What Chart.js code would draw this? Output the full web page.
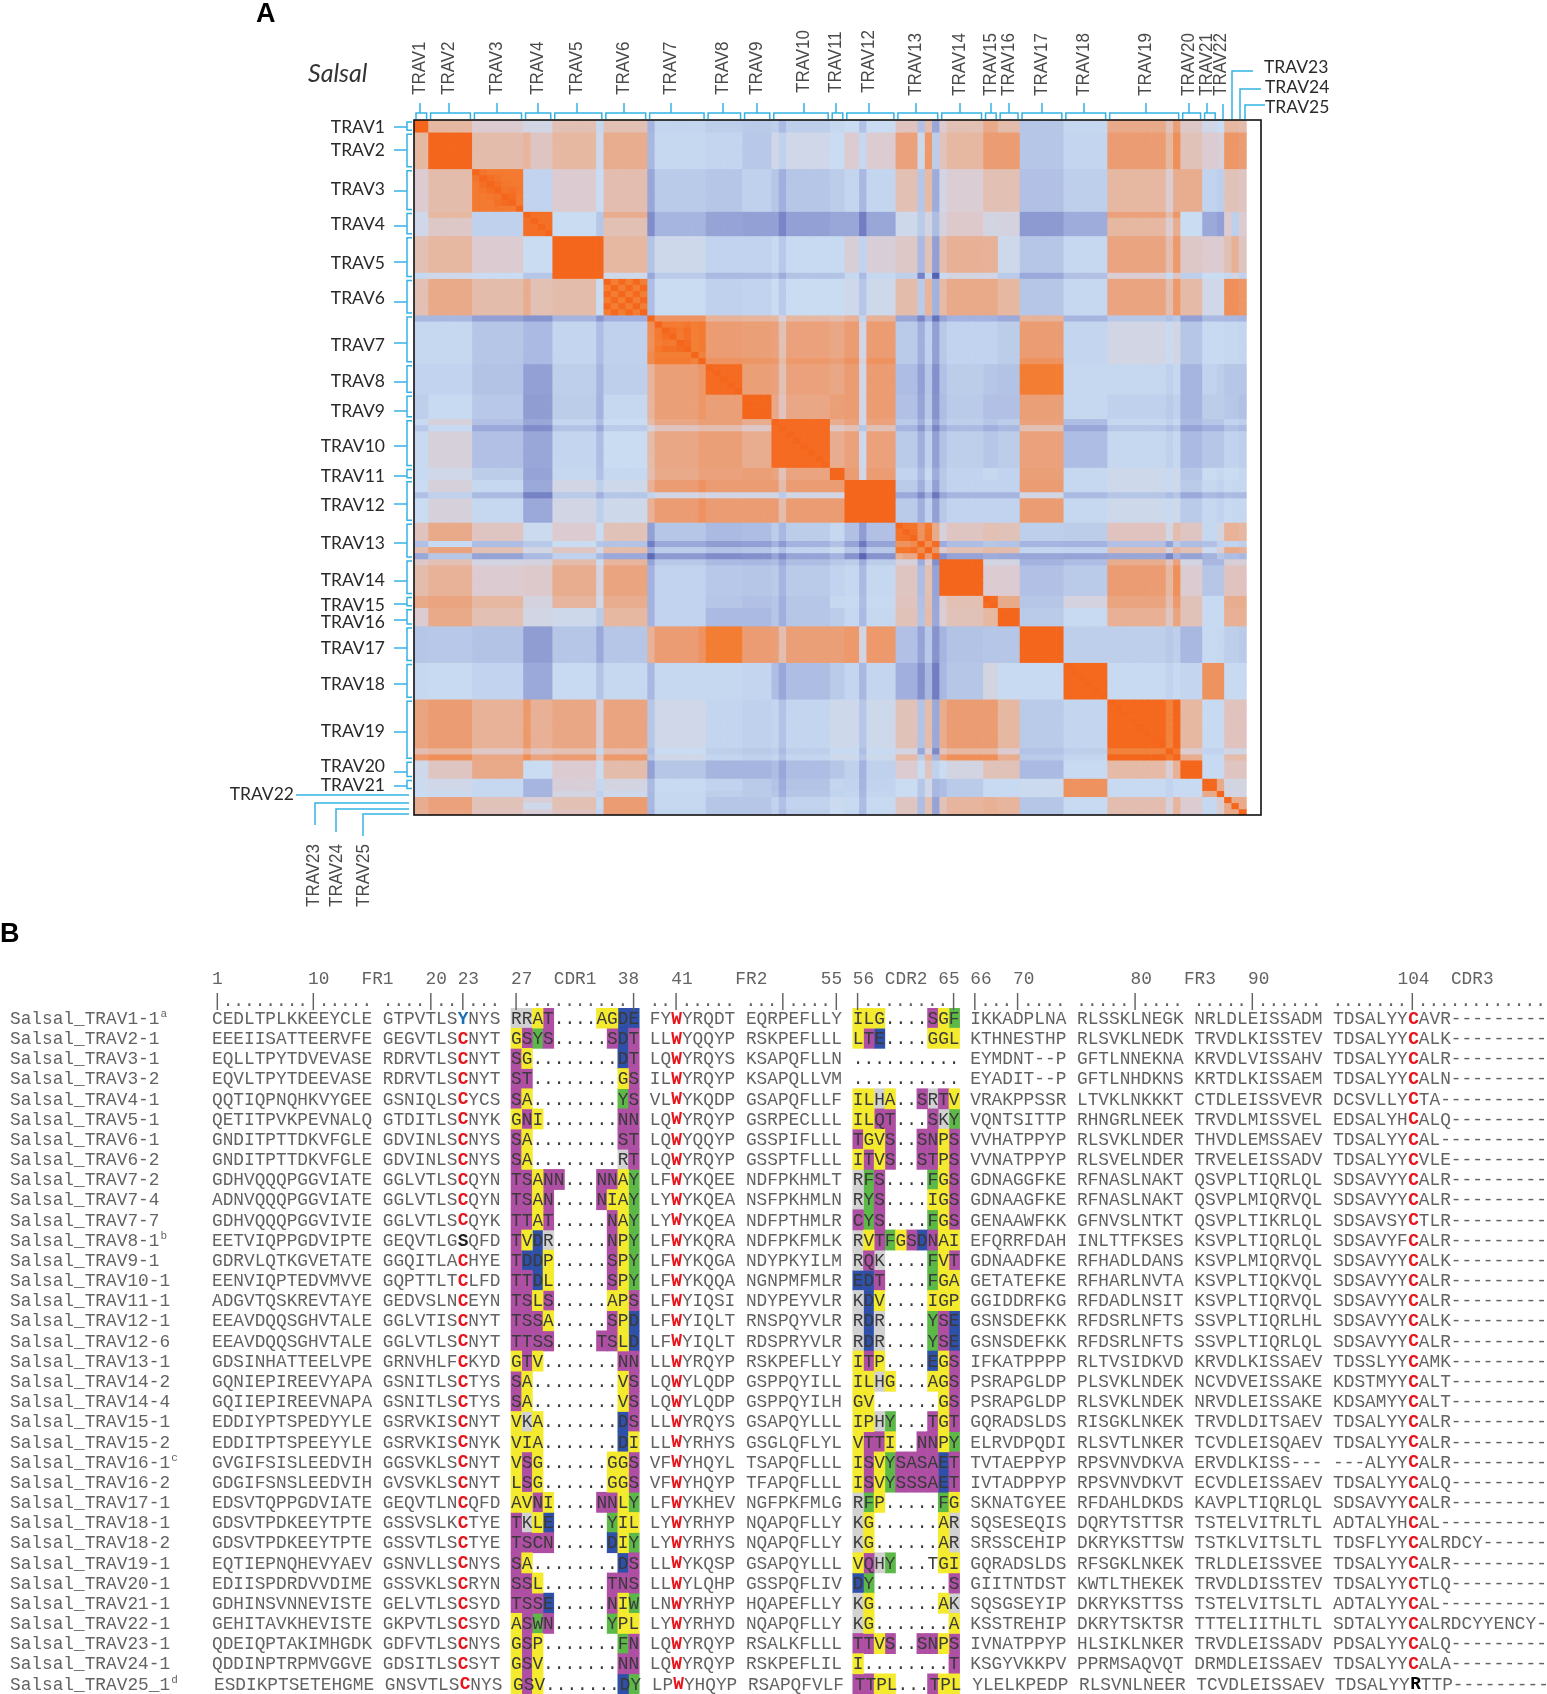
<!DOCTYPE html>
<html>
<head>
<meta charset="utf-8">
<title>Salsal TRAV</title>
<script src="https://cdn.jsdelivr.net/npm/chart.js@4"></script>
<style>
  html, body { margin: 0; padding: 0; background: #fff; }
  #page { position: relative; width: 1547px; height: 1694px; overflow: hidden; }
  canvas { position: absolute; left: 0; }
  #heatChart { top: 0; }
  #alignChart { top: 900px; }
</style>
</head>
<body>
<div id="page">
  <canvas id="heatChart" width="1547" height="915"></canvas>
  <canvas id="alignChart" width="1547" height="794"></canvas>
</div>
<script>
// ---- panel A data, tones (1 deep blue .. 5 pink .. 9 hot orange)
const familyNames = ['TRAV1','TRAV2','TRAV3','TRAV4','TRAV5','TRAV6','TRAV7','TRAV8','TRAV9','TRAV10','TRAV11','TRAV12','TRAV13','TRAV14','TRAV15','TRAV16','TRAV17','TRAV18','TRAV19','TRAV20','TRAV21','TRAV22','TRAV23','TRAV24','TRAV25'];
const familySizes = [2,6,7,4,7,6,8,5,4,8,2,7,6,6,2,3,6,6,10,3,2,1,1,1,1];
const familyTones = [
  [9,6,5,4.4,5.6,5.6,3.7,3.4,3.2,3.4,3.8,4,5.4,5.6,6.5,5.8,3,3.8,6.5,5.2,4.3,4,6,6,5.8],
  [6,9,5.8,5.3,6,6.4,3.8,3.7,3.1,4.3,4,5,6.8,6,7,7,3,3.7,7,5.5,5,4.8,7.2,7.2,7],
  [5,5.8,8.7,3.6,5,5.7,3.2,3,3.5,3,3.3,3.7,5.6,4.9,5.6,5.6,2.8,3.4,6,6.4,3.6,3.4,5.5,5.5,5.3],
  [4.3,5.2,3.5,8.6,4,5.6,2.4,1.8,1.7,1.7,1.9,1.9,4.2,5.1,4.5,4.6,1.5,2.1,6,4,2,1.7,5,3.4,5],
  [5.6,6,5,4,9,6,4.2,3.6,3.6,3.9,3.9,4.8,5.2,6.3,6.2,4.2,3,3.8,6.7,5.2,5,5,5.6,6.3,5.3],
  [5.6,6.5,5.8,5.6,5.8,8.6,4,3.5,3.6,4,4,4.2,5.8,6.5,6.5,6,3,3.8,6.7,5.9,4.3,4.3,7.4,7.4,7.2],
  [3.8,3.8,3,2.6,3.7,3.5,8.3,7,6.9,6.8,6.6,7,3.2,3.6,3.6,3.3,7,3.7,4.4,3,3.9,3.9,3.8,3.8,3.7],
  [3.6,3.6,2.9,1.7,3.4,3.4,6.9,8.8,6.9,6.8,6.6,7,2.7,3.3,3,2.9,8.1,3.8,3.8,2.4,3.6,3.3,3,3,3],
  [3.4,3.9,3.1,1.6,3.3,3.8,6.9,6.9,9,6.6,6.9,7,2.8,3.2,2.8,2.8,6.9,3.8,3.5,2.4,3.3,3.3,3.1,3,2.8],
  [3.9,4.7,2.8,1.9,3.7,4,6.6,6.9,6.4,8.8,6.4,6.8,3.2,3.4,3,3.3,6.8,2.7,3.8,2.6,3,3,3.6,3.6,3.4],
  [3.9,4.3,3.3,1.8,3.8,3.8,6.5,6.8,6.9,6.7,9,7,3.6,3.6,3.8,3.6,6.9,3.8,4.2,3,4,3.8,4,4,3.8],
  [4,4.7,3.8,2,4.4,4.2,7,7,7,7,7,9,3.2,3.6,3.6,3.6,7,3.8,4.2,3.2,3.8,3.6,3.9,3.8,3.8],
  [5.4,6.5,5.3,4.1,5,5.5,3,2.6,2.7,3.3,3.8,2.8,8.6,5.3,5.6,5.5,3.4,3.3,5.4,5.3,3.8,4.5,6.2,6.2,6],
  [5.8,6.2,5,5.1,6.4,6.7,3.6,3.1,3,3.2,3.6,3.8,5.3,9,5,5,2.8,3.2,7,5,3,3,5.4,5.4,5.4],
  [6.5,6.7,6,4.6,6.1,6.4,3.6,3,2.8,3,3.8,3.9,5.4,5.6,8.8,6.5,3,4.6,6.7,5.5,3.9,3.9,6.4,6.4,6.4],
  [5,6.5,5.6,4.4,4.2,6,3.6,2.6,2.6,3,3.3,3.8,5.5,5.5,6,9,3.2,3.9,6.3,5.5,3.9,3.9,6.3,6.3,6.3],
  [3,3.1,2.9,1.6,3,3,7,8.1,7,6.9,6.9,7.1,2.8,2.9,3,3,9,3.4,3.4,2.5,3.9,3.8,3.4,3.4,3.2],
  [3.8,3.9,3.6,2,3.9,3.8,3.8,3.8,3.7,2.7,3.2,3.7,2.2,3,4.5,3.9,3.9,8.9,3.9,3.7,7.3,7.3,3.9,3.9,3.9],
  [6.7,7,6.2,6.3,6.6,6.7,4.3,3.7,3.5,3.7,4.2,4.2,5.5,7,7,6,3.2,3.7,8.9,6,3.9,3.9,5.4,5.4,5.4],
  [4.2,5.3,6.5,4,5,5.8,3,2.4,2.4,2.7,3,3.5,5,4.5,5.5,5.5,2.6,3.9,5.9,9,3.9,3.9,5.3,5.3,5.3],
  [4.1,4.3,3.8,2.4,4.8,4.5,3.9,3.6,3.2,2.9,3.7,3.6,4,3.2,3.9,3.9,4.1,7.3,3.9,3.9,8.9,6.5,4.5,4.5,4.5],
  [4,4.1,3.8,2.4,4.5,4.2,3.8,3.4,3.2,3,3.6,3.7,4,3.2,3.9,3.9,4.1,7.3,3.9,3.9,6.5,9,4.5,4.5,4.5],
  [6.4,6.8,5.5,4.8,5.6,7,3.8,3,3,3.6,4.1,3.9,5.3,6.1,6.3,6.1,3,3.9,5.7,5,3.8,5,9,6.5,6.5],
  [6.4,6.8,5.5,4.2,5.6,7,3.8,3,3,3.6,4.1,3.9,5.3,6.1,6.3,6.1,3,3.9,5.7,5,3.8,5,6.5,9,6.5],
  [6.3,6.7,5.4,4.8,5.4,7,3.7,3,3,3.4,4,3.8,5.3,6.1,6.3,6.1,3,3.9,5.7,5,3.8,5,6.5,6.5,9]
];
// genes whose row and column stand out from their family
const stripeGenes  = [15,25,32,39,50,61,69,70,71,72,103,104];
const stripeOnBlue = [0,-1,-1.3,0,-.8,-1.2,-1,.3,-1.5,-.5,-.3,0];
const stripeOnWarm = [.8,-1.8,-.8,.3,-1.2,-2.6,-2.6,.3,-3.5,-.6,-1,.4];
// family blocks on the diagonal that are not flat
const blockTrav3 = [
  [9.2,8.4,8.2,8.2,8.2,8.2,8.2],[8.4,9,8.7,8.4,8.2,8.2,8.2],[8.2,8.7,9,8.7,8.3,8.2,8.2],
  [8.2,8.4,8.7,9,8.4,8.6,8.3],[8.2,8.2,8.3,8.4,9,8.8,8.2],[8.2,8.2,8.2,8.6,8.8,9,8.2],
  [8.2,8.2,8.2,8.3,8.2,8.2,9.4]
];
const blockTrav6 = [
  [9,8.1,8.9,8.1,8.9,8.1],[8.1,9,8.1,8.9,8.1,8.9],[8.9,8.1,9,8.1,8.9,8.1],
  [8.1,8.9,8.1,9,8.1,8.9],[8.9,8.1,8.9,8.1,9,8.1],[8.1,8.9,8.1,8.9,8.1,9]
];
const blockTrav7 = [
  [9.3,7.3,7.3,7.3,7.3,7.3,7.3,7.3],[7.4,9,8.2,8.2,8.1,8.3,8,8.2],[7.4,8.2,9,8.7,8.3,8.7,8,8.2],
  [7.4,8.2,8.7,9,8.2,8.6,8,8.2],[7.4,8.1,8.3,8.2,9,8.8,8,8.2],[7.4,8.3,8.7,8.6,8.8,9,8,8.2],
  [7.6,8,8,8,8,8,9.3,7.9],[7.6,8.2,8.2,8.2,8.2,8.2,7.9,9.3]
];
const blockTrav13 = [
  [9,8.5,8.5,7.3,8.2,6.5],[8.5,9,8.6,7.3,8.3,6.5],[8.5,8.6,9,7.3,8.4,6.5],
  [7.3,7.3,7.6,9,7.5,8.8],[8.3,8.3,8.6,7.6,9,7.2],[6.3,6.6,6.6,8.8,7,9.2]
];
const diagonalBlocks = {2: blockTrav3, 5: blockTrav6, 6: blockTrav7, 12: blockTrav13};

// ---- panel B data
const seqNames = ['Salsal_TRAV1-1','Salsal_TRAV2-1','Salsal_TRAV3-1','Salsal_TRAV3-2','Salsal_TRAV4-1','Salsal_TRAV5-1','Salsal_TRAV6-1','Salsal_TRAV6-2','Salsal_TRAV7-2','Salsal_TRAV7-4','Salsal_TRAV7-7','Salsal_TRAV8-1','Salsal_TRAV9-1','Salsal_TRAV10-1','Salsal_TRAV11-1','Salsal_TRAV12-1','Salsal_TRAV12-6','Salsal_TRAV13-1','Salsal_TRAV14-2','Salsal_TRAV14-4','Salsal_TRAV15-1','Salsal_TRAV15-2','Salsal_TRAV16-1','Salsal_TRAV16-2','Salsal_TRAV17-1','Salsal_TRAV18-1','Salsal_TRAV18-2','Salsal_TRAV19-1','Salsal_TRAV20-1','Salsal_TRAV21-1','Salsal_TRAV22-1','Salsal_TRAV23-1','Salsal_TRAV24-1','Salsal_TRAV25_1'];
const seqNotes = {0:'a',11:'b',22:'c',33:'d'};
const sequences = [
  'CEDLTPLKKEEYCLE GTPVTLSYNYS RRAT....AGDE FYWYRQDT EQRPEFLLY ILG....SGF IKKADPLNA RLSSKLNEGK NRLDLEISSADM TDSALYYCAVR---------',
  'EEEIISATTEERVFE GEGVTLSCNYT GSYS.....SDT LLWYQQYP RSKPEFLLL LTE....GGL KTHNESTHP RLSVKLNEDK TRVDLKISSTEV TDSALYYCALK---------',
  'EQLLTPYTDVEVASE RDRVTLSCNYT SG........DT LQWYRQYS KSAPQFLLN .......... EYMDNT--P GFTLNNEKNA KRVDLVISSAHV TDSALYYCALR---------',
  'EQVLTPYTDEEVASE RDRVTLSCNYT ST........GS ILWYRQYP KSAPQLLVM .......... EYADIT--P GFTLNHDKNS KRTDLKISSAEM TDSALYYCALN---------',
  'QQTIQPNQHKVYGEE GSNIQLSCYCS SA........YS VLWYKQDP GSAPQFLLF ILHA..SRTV VRAKPPSSR LTVKLNKKKT CTDLEISSVEVR DCSVLLYCTA----------',
  'QETITPVKPEVNALQ GTDITLSCNYK GNI.......NN LQWYRQYP GSRPECLLL ILQT...SKY VQNTSITTP RHNGRLNEEK TRVDLMISSVEL EDSALYHCALQ---------',
  'GNDITPTTDKVFGLE GDVINLSCNYS SA........ST LQWYQQYP GSSPIFLLL TGVS..SNPS VVHATPPYP RLSVKLNDER THVDLEMSSAEV TDSALYYCAL----------',
  'GNDITPTTDKVFGLE GDVINLSCNYS SA........RT LQWYRQYP GSSPTFLLL ITVS..STPS VVNATPPYP RLSVELNDER TRVELEISSADV TDSALYYCVLE---------',
  'GDHVQQQPGGVIATE GGLVTLSCQYN TSANN...NNAY LFWYKQEE NDFPKHMLT RFS....FGS GDNAGGFKE RFNASLNAKT QSVPLTIQRLQL SDSAVYYCALR---------',
  'ADNVQQQPGGVIATE GGLVTLSCQYN TSAN....NIAY LYWYKQEA NSFPKHMLN RYS....IGS GDNAAGFKE RFNASLNAKT QSVPLMIQRVQL SDSAVYYCALR---------',
  'GDHVQQQPGGVIVIE GGLVTLSCQYK TTAT.....NAY LYWYKQEA NDFPTHMLR CYS....FGS GENAAWFKK GFNVSLNTKT QSVPLTIKRLQL SDSAVSYCTLR---------',
  'EETVIQPPGDVIPTE GEQVTLGSQFD TVDR.....NPY LFWYKQRA NDFPKFMLK RVTFGSDNAI EFQRRFDAH INLTTFKSES KSVPLTIQRLQL SDSAVYFCALR---------',
  'GDRVLQTKGVETATE GGQITLACHYE TDDP.....SPY LFWYKQGA NDYPKYILM RQK....FVT GDNAADFKE RFHADLDANS KSVPLMIQRVQL SDSAVYYCALK---------',
  'EENVIQPTEDVMVVE GQPTTLTCLFD TTDL.....SPY LFWYKQQA NGNPMFMLR EDT....FGA GETATEFKE RFHARLNVTA KSVPLTIQKVQL SDSAVYYCALR---------',
  'ADGVTQSKREVTAYE GEDVSLNCEYN TSLS.....APS LFWYIQSI NDYPEYVLR KDV....IGP GGIDDRFKG RFDADLNSIT KSVPLTIQRVQL SDSAVYYCALR---------',
  'EEAVDQQSGHVTALE GGLVTISCNYT TSSA.....SPD LFWYIQLT RNSPQYVLR RDR....YSE GSNSDEFKK RFDSRLNFTS SSVPLTIQRLHL SDSAVYYCALK---------',
  'EEAVDQQSGHVTALE GGLVTLSCNYT TTSS....TSLD LFWYIQLT RDSPRYVLR RDR....YSE GSNSDEFKK RFDSRLNFTS SSVPLTIQRLQL SDSAVYYCALR---------',
  'GDSINHATTEELVPE GRNVHLFCKYD GTV.......NN LLWYRQYP RSKPEFLLY ITP....EGS IFKATPPPP RLTVSIDKVD KRVDLKISSAEV TDSSLYYCAMK---------',
  'GQNIEPIREEVYAPA GSNITLSCTYS SA........VS LQWYLQDP GSPPQYILL ILHG...AGS PSRAPGLDP PLSVKLNDEK NCVDVEISSAKE KDSTMYYCALT---------',
  'GQIIEPIREEVNAPA GSNITLSCTYS SA........VS LQWYLQDP GSPPQYILH GV......GS PSRAPGLDP RLSVKLNDEK NRVDLEISSAKE KDSAMYYCALT---------',
  'EDDIYPTSPEDYYLE GSRVKISCNYT VKA.......DS LLWYRQYS GSAPQYLLL IPHY...TGT GQRADSLDS RISGKLNKEK TRVDLDITSAEV TDSALYYCALR---------',
  'EDDITPTSPEEYYLE GSRVKISCNYK VIA.......DI LLWYRHYS GSGLQFLYL VTTI..NNPY ELRVDPQDI RLSVTLNKER TCVDLEISQAEV TDSALYYCALR---------',
  'GVGIFSISLEEDVIH GGSVKLSCNYT VSG......GGS VFWYHQYL TSAPQFLLL ISVYSASAET TVTAEPPYP RPSVNVDKVA ERVDLKISS--- ---ALYYCALR---------',
  'GDGIFSNSLEEDVIH GVSVKLSCNYT LSG......GGS VFWYHQYP TFAPQFLLL ISVYSSSAET IVTADPPYP RPSVNVDKVT ECVDLEISSAEV TDSALYYCALQ---------',
  'EDSVTQPPGDVIATE GEQVTLNCQFD AVNI....NNLY LFWYKHEV NGFPKFMLG RFP.....FG SKNATGYEE RFDAHLDKDS KAVPLTIQRLQL SDSAVYYCALR---------',
  'GDSVTPDKEEYTPTE GSSVSLKCTYE TKLE.....YIL LYWYRHYP NQAPQFLLY KG......AR SQSESEQIS DQRYTSTTSR TSTELVITRLTL ADTALYHCAL----------',
  'GDSVTPDKEEYTPTE GSSVTLSCTYE TSCN.....DIY LYWYRHYS NQAPQFLLY KG......AR SRSSCEHIP DKRYKSTTSW TSTKLVITSLTL TDSFLYYCALRDCY------',
  'EQTIEPNQHEVYAEV GSNVLLSCNYS SA........DS LLWYKQSP GSAPQYLLL VQHY...TGI GQRADSLDS RFSGKLNKEK TRLDLEISSVEE TDSALYYCALR---------',
  'EDIISPDRDVVDIME GSSVKLSCRYN SSL......TNS LLWYLQHP GSSPQFLIV DY.......S GIITNTDST KWTLTHEKEK TRVDLDISSTEV TDSALYYCTLQ---------',
  'GDHINSVNNEVISTE GELVTLSCSYD TSSE.....NIW LNWYRHYP HQAPEFLLY KG......AK SQSGSEYIP DKRYKSTTSS TSTELVITSLTL ADTALYYCAL----------',
  'GEHITAVKHEVISTE GKPVTLSCSYD ASWN.....YPL LYWYRHYD NQAPQFLLY KG.......A KSSTREHIP DKRYTSKTSR TTTELIITHLTL SDTALYYCALRDCYYENCY-',
  'QDEIQPTAKIMHGDK GDFVTLSCNYS GSP.......FN LQWYRQYP RSALKFLLL TTVS..SNPS IVNATPPYP HLSIKLNKER TRVDLEISSADV PDSALYYCALQ---------',
  'QDDINPTRPMVGGVE GDSITLSCSYT GSV.......NN LQWYRQYP RSKPEFLIL I........T KSGYVKKPV PPRMSAQVQT DRMDLEISSAEV TDSALYYCALA---------',
  'ESDIKPTSETEHGME GNSVTLSCNYS GSV.......DY LPWYHQYP RSAPQFVLF TTPL...TPL YLELKPEDP RLSVNLNEER TCVDLEISSAEV TDSALYYRTTP---------'
];
const rulerLine = '|........|..... ....|..|... |..........| ..|..... ...|....| |........| |...|.... .....|.... .....|...... .......|.............';
const headerLabels = ['1','10','FR1','20','23','27','CDR1','38','41','FR2','55','56','CDR2','65','66','70','80','FR3','90','104','CDR3'];
const headerCols   = [0,9,14,20,23,28,32,38,43,49,57,60,63,68,71,75,86,91,97,111,116];
const residueGroups = {hydrophobic:'AGILVPM', polar:'STNQC', basic:'RKH', acidic:'DE', aromatic:'FWY'};
const groupColors = {hydrophobic:'#f4ea2e', polar:'#ae4fa4', basic:'#d2d2d2', acidic:'#2f50a8', aromatic:'#5cb948'};
const cdrRanges = [[28,39],[60,69]];
const polarExceptions = ['22:65','22:67','23:67'];
const plainExceptions = ['27:67'];

// ---- panel A helpers
const toneStops = ['#5663b4','#7d8ac8','#9ba9da','#b6c6e7','#c9dcf2','#dccbd0','#e6b8a2','#ec9c72','#f37f35','#f4661c'];
function hexRgb(h) { return [1,3,5].map(i => parseInt(h.substr(i,2),16)); }
function toneColor(t) {
  t = Math.max(0, Math.min(9, t));
  const i = Math.min(8, Math.floor(t)), f = t - i;
  const a = hexRgb(toneStops[i]), b = hexRgb(toneStops[i+1]);
  return 'rgb(' + a.map((v,k) => Math.round(v + (b[k]-v)*f)).join(',') + ')';
}

const geneFamily = [], familyStart = [];
familySizes.forEach((n,f) => { familyStart.push(geneFamily.length); for (let i=0;i<n;i++) geneFamily.push(f); });
const geneCount = geneFamily.length;
const xLabels = geneFamily.map((f,i) => familyNames[f] + '.' + (i - familyStart[f] + 1)).concat(['','']);

function cellTone(r, c) {
  const fr = geneFamily[r], fc = geneFamily[c];
  if (fr === fc && diagonalBlocks[fr]) return diagonalBlocks[fr][r-familyStart[fr]][c-familyStart[fc]];
  if (r === c) return 9.4;
  let t = familyTones[fr][fc];
  if (fr === fc && fr !== 18) return t;
  const warm = t >= 5.2;
  [r,c].forEach(g => {
    const s = stripeGenes.indexOf(g);
    if (s >= 0) t += warm ? stripeOnWarm[s] : stripeOnBlue[s];
  });
  return t;
}

const heatDatasets = geneFamily.map((f,r) => ({
  label: xLabels[r],
  data: xLabels.map(() => 1),
  backgroundColor: xLabels.map((l,c) => c < geneCount ? toneColor(cellTone(r,c)) : 'rgba(0,0,0,0)'),
  borderWidth: 0, stack: 'rows'
}));

const CYAN = '#35b2e4';
// where the family labels and their ticks sit on the sheet
const topLabelX = [420,449,497,538,577,624,671,723,757,804,836,869,916,960,991,1009,1042,1084,1146,1189,1207,1221];
const topLabelBottom = [95,95,95,95,95,95,95,95,95,93,93,93,96,96,96,96,96,96,96,96,96,96];
const leftLabelY = [127,150,189,224,263,298,345,381,411,446,476,505,543,580,605,622,648,684,731,766,785];
const leftTickY  = [127,150,191,226,262,302,343,382,411,446,476,504,543,581,604,620,648,684,732,772,786];

function line(ctx, pts, w) {
  ctx.lineWidth = w || 1.5;
  ctx.beginPath();
  pts.forEach((p,i) => i ? ctx.lineTo(p[0],p[1]) : ctx.moveTo(p[0],p[1]));
  ctx.stroke();
}

const heatDecor = {
  id: 'heatDecor',
  afterDraw(chart) {
    const ctx = chart.ctx, area = chart.chartArea, xs = chart.scales.x, ys = chart.scales.y;
    const cw = (area.right - area.left) / xLabels.length;
    ctx.save();
    ctx.strokeStyle = '#111'; ctx.lineWidth = 1.6;
    ctx.strokeRect(area.left, area.top, area.right - area.left, area.bottom - area.top);

    ctx.strokeStyle = CYAN;
    for (let f = 0; f < 21; f++) {
      const x0 = xs.getPixelForValue(familyStart[f]) - cw/2 + 2;
      const x1 = xs.getPixelForValue(familyStart[f] + familySizes[f] - 1) + cw/2 - 2;
      line(ctx, [[x0,119],[x0,113],[x1,113],[x1,119]]);
      line(ctx, [[topLabelX[f],113],[topLabelX[f],103]]);
      const y0 = ys.getPixelForValue(familyStart[f]) + 2;
      const y1 = ys.getPixelForValue(familyStart[f] + familySizes[f]) - 2;
      line(ctx, [[412,y0],[407,y0],[407,y1],[412,y1]]);
      line(ctx, [[407,leftTickY[f]],[394,leftTickY[f]]]);
    }
    line(ctx, [[1223,119],[1223,104]]);
    line(ctx, [[1232,119],[1232,71],[1253,71]]);
    line(ctx, [[1240,119],[1240,89],[1261,89]]);
    line(ctx, [[1245,119],[1245,105],[1265,105]]);
    line(ctx, [[409,795],[296,795]]);
    line(ctx, [[409,803],[315,803],[315,825]]);
    line(ctx, [[409,809],[336,809],[336,832]]);
    line(ctx, [[409,814],[363,814],[363,836]]);

    // rotated labels along the top and under the map
    ctx.fillStyle = '#4a4a4a';
    ctx.font = '17px "Liberation Sans"';
    ctx.textBaseline = 'middle'; ctx.textAlign = 'left';
    const rotated = (text, x, y) => {
      ctx.save(); ctx.translate(x, y); ctx.rotate(-Math.PI/2); ctx.scale(1, 1.12);
      ctx.fillText(text, 0, 0); ctx.restore();
    };
    for (let f = 0; f < 22; f++) rotated(familyNames[f], topLabelX[f], topLabelBottom[f]);
    rotated(familyNames[22], 314, 907);
    rotated(familyNames[23], 337, 907);
    rotated(familyNames[24], 364, 907);

    // horizontal labels
    ctx.fillStyle = '#2a2a2a';
    ctx.font = '17.5px Lato';
    ctx.textAlign = 'right';
    for (let f = 0; f < 21; f++) ctx.fillText(familyNames[f], 385, leftLabelY[f]);
    ctx.fillText(familyNames[21], 294, 794);
    ctx.textAlign = 'left';
    ctx.fillText(familyNames[22], 1264, 67);
    ctx.fillText(familyNames[23], 1265, 87);
    ctx.fillText(familyNames[24], 1265, 107);

    ctx.font = 'italic 25px Lato';
    ctx.fillStyle = '#333';
    ctx.fillText('Salsal', 308, 74);
    ctx.fillStyle = '#000';
    ctx.font = 'bold 27px "Liberation Sans"';
    ctx.fillText('A', 256, 15);
    ctx.restore();
  }
};

new Chart(document.getElementById('heatChart'), {
  type: 'bar',
  data: { labels: xLabels, datasets: heatDatasets },
  options: {
    responsive: false, animation: false, devicePixelRatio: 1,
    layout: { padding: { left: 414, top: 120, right: 286, bottom: 100 } },
    plugins: { legend: { display: false }, tooltip: { enabled: false } },
    datasets: { bar: { categoryPercentage: 1, barPercentage: 1 } },
    scales: {
      x: { display: false, stacked: true },
      y: { display: false, stacked: true, reverse: true, min: 0, max: geneCount }
    }
  },
  plugins: [heatDecor]
});

// ---- panel B
const residueGroup = {};
Object.keys(residueGroups).forEach(g => residueGroups[g].split('').forEach(a => residueGroup[a] = g));
const colLabels = rulerLine.split('').map((ch,i) => i).slice(0,125);
const cdrCells = { hydrophobic: [], polar: [], basic: [], acidic: [], aromatic: [] };
sequences.forEach((s,r) => {
  cdrRanges.forEach(rg => {
    for (let k = rg[0]; k <= rg[1]; k++) {
      const key = r + ':' + k;
      if (plainExceptions.includes(key)) continue;
      let g = residueGroup[s[k]];
      if (polarExceptions.includes(key)) g = 'polar';
      if (g) cdrCells[g].push({ x: k, y: [r, r+1] });
    }
  });
});

function boldStyle(r, k, ch) {
  if ((k === 23 || k === 112) && ch === 'C') return '#e8141c';
  if (k === 43 && ch === 'W') return '#e8141c';
  if (r === 0 && k === 23) return '#1b6fb8';
  if (r === 11 && k === 23) return '#222';
  if (r === 33 && k === 112) return '#000';
  return null;
}
const inCdr = k => cdrRanges.some(rg => k >= rg[0] && k <= rg[1]);

const alignText = {
  id: 'alignText',
  afterDatasetsDraw(chart) {
    const ctx = chart.ctx, xs = chart.scales.x, ys = chart.scales.y;
    const cw = (chart.chartArea.right - chart.chartArea.left) / 125;
    const size = cw / 0.6;
    const plain = size + 'px "Liberation Mono"', bold = 'bold ' + plain;
    const colX = k => xs.getPixelForValue(k) - cw/2;
    const grey = '#636363';
    ctx.save();
    ctx.textBaseline = 'middle'; ctx.textAlign = 'left';
    ctx.fillStyle = '#000';
    ctx.font = 'bold 27px "Liberation Sans"';
    ctx.fillText('B', 0, 35);

    ctx.fillStyle = grey; ctx.font = plain;
    headerLabels.forEach((t,i) => ctx.fillText(t, colX(headerCols[i]), 79));
    ctx.fillText(rulerLine, colX(0), 101);

    sequences.forEach((s,r) => {
      const y = (ys.getPixelForValue(r) + ys.getPixelForValue(r+1)) / 2 + 1;
      const shift = r === 33 ? 2 : 0;
      ctx.font = plain; ctx.fillStyle = grey;
      ctx.fillText(seqNames[r], 10, y);
      if (seqNotes[r]) {
        ctx.font = '11px "Liberation Mono"';
        ctx.fillText(seqNotes[r], 10 + seqNames[r].length * cw + 1, y - 5);
      }
      let start = 0;
      for (let k = 0; k <= s.length; k++) {
        const b = k < s.length ? boldStyle(r, k, s[k]) : null;
        const edge = inCdr(k) !== inCdr(k-1);
        if (b || edge || k === s.length) {
          ctx.font = plain; ctx.fillStyle = inCdr(start) ? '#3a3a3a' : grey;
          if (k > start) ctx.fillText(s.slice(start, k), colX(start) + shift, y);
          if (b) { ctx.font = bold; ctx.fillStyle = b; ctx.fillText(s[k], colX(k) + shift, y); }
          start = b ? k + 1 : k;
        }
      }
    });
    ctx.restore();
  }
};

new Chart(document.getElementById('alignChart'), {
  type: 'bar',
  data: {
    labels: colLabels,
    datasets: Object.keys(cdrCells).map(g => ({ label: g, data: cdrCells[g], backgroundColor: groupColors[g], borderWidth: 0 }))
  },
  options: {
    responsive: false, animation: false, devicePixelRatio: 1,
    layout: { padding: { left: 212, top: 108, right: 0, bottom: 0 } },
    plugins: { legend: { display: false }, tooltip: { enabled: false } },
    datasets: { bar: { categoryPercentage: 1, barPercentage: 1, grouped: false } },
    scales: {
      x: { display: false },
      y: { display: false, reverse: true, min: 0, max: sequences.length }
    }
  },
  plugins: [alignText]
});
</script>
</body>
</html>
